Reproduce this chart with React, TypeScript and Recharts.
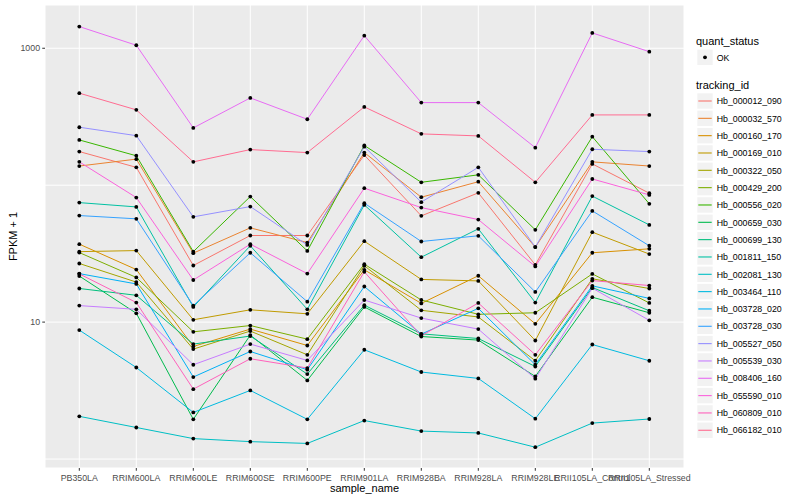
import React from 'react';
import { LineChart, Line, XAxis, YAxis, CartesianGrid, Legend } from 'recharts';

const FONT = '"Liberation Sans", Arial, Helvetica, sans-serif';

const categories = [
  'PB350LA', 'RRIM600LA', 'RRIM600LE', 'RRIM600SE', 'RRIM600PE', 'RRIM901LA',
  'RRIM928BA', 'RRIM928LA', 'RRIM928LE', 'RRII105LA_Control', 'RRII105LA_Stressed',
];

const yTicks = [1, 10, 100, 1000];
const yLabelTicks = [10, 1000];

const trackingIds = [
  'Hb_000012_090', 'Hb_000032_570', 'Hb_000160_170', 'Hb_000169_010', 'Hb_000322_050',
  'Hb_000429_200', 'Hb_000556_020', 'Hb_000659_030', 'Hb_000699_130', 'Hb_001811_150',
  'Hb_002081_130', 'Hb_003464_110', 'Hb_003728_020', 'Hb_003728_030', 'Hb_005527_050',
  'Hb_005539_030', 'Hb_008406_160', 'Hb_055590_010', 'Hb_060809_010', 'Hb_066182_010',
];

const colors = [
  '#F8766D', '#EA8331', '#D89000', '#C09B00', '#A3A500', '#7CAE00', '#39B600', '#00BB4E',
  '#00BF7D', '#00C1A3', '#00BFC4', '#00BAE0', '#00B0F6', '#35A2FF', '#9590FF', '#C77CFF',
  '#E76BF3', '#FA62DB', '#FF62BC', '#FF6C91',
];

const Hb_000012_090 = [176, 135, 25.9, 42.9, 42.9, 166, 59.7, 87.9, 26.2, 143, 87.4];
const Hb_000032_570 = [138, 155, 31.9, 48.8, 38.1, 173, 81.7, 106, 35.3, 148, 138];
const Hb_000160_170 = [37.1, 24.2, 6.64, 8.89, 6.75, 24.1, 13.7, 21.8, 9.71, 32.1, 34.3];
const Hb_000169_010 = [32.7, 33.3, 10.4, 12.3, 11.5, 39.0, 20.5, 20.0, 7.34, 45.4, 31.4];
const Hb_000322_050 = [26.8, 19.6, 6.35, 8.6, 5.77, 25.8, 12.2, 10.9, 5.22, 20.7, 17.6];
const Hb_000429_200 = [32.2, 21.2, 8.49, 9.44, 7.51, 26.5, 14.5, 11.4, 11.7, 22.5, 13.8];
const Hb_000556_020 = [214, 164, 32.7, 82.6, 33.1, 195, 105, 119, 47.2, 226, 73.1];
const Hb_000659_030 = [21.7, 11.6, 1.95, 8.04, 3.75, 12.9, 7.85, 7.39, 4.01, 15.2, 11.7];
const Hb_000699_130 = [17.6, 15.7, 6.91, 7.91, 4.17, 13.3, 8.21, 7.59, 4.74, 17.9, 12.1];
const Hb_001811_150 = [74.6, 69.4, 12.9, 36.1, 12.4, 71.8, 29.8, 48.0, 13.9, 83.2, 51.3];
const Hb_002081_130 = [2.05, 1.70, 1.41, 1.34, 1.30, 1.91, 1.60, 1.55, 1.22, 1.83, 1.96];
const Hb_003464_110 = [8.74, 4.66, 2.19, 3.17, 1.95, 6.28, 4.32, 3.88, 1.97, 6.86, 5.22];
const Hb_003728_020 = [22.6, 19.0, 3.97, 6.10, 4.49, 18.2, 8.17, 12.6, 4.88, 18.4, 14.9];
const Hb_003728_030 = [60.0, 56.8, 13.2, 32.1, 14.1, 73.9, 38.8, 42.7, 16.6, 64.9, 36.1];
const Hb_005527_050 = [265, 230, 58.7, 69.8, 36.6, 191, 75.2, 135, 35.3, 183, 176];
const Hb_005539_030 = [13.2, 12.4, 4.88, 6.91, 5.25, 14.5, 10.7, 8.89, 3.86, 17.7, 10.3];
const Hb_008406_160 = [1440, 1052, 262, 434, 303, 1236, 401, 401, 188, 1294, 944];
const Hb_055590_010 = [148, 81.2, 20.3, 37.1, 22.6, 95.1, 68.6, 56.1, 25.5, 111, 84.9];
const Hb_060809_010 = [22.5, 13.9, 3.24, 5.40, 4.62, 23.3, 7.94, 13.8, 5.77, 20.1, 18.5];
const Hb_066182_010 = [470, 355, 148, 182, 173, 373, 237, 229, 105, 326, 326];

const seriesValues = [
  Hb_000012_090, Hb_000032_570, Hb_000160_170, Hb_000169_010, Hb_000322_050,
  Hb_000429_200, Hb_000556_020, Hb_000659_030, Hb_000699_130, Hb_001811_150,
  Hb_002081_130, Hb_003464_110, Hb_003728_020, Hb_003728_030, Hb_005527_050,
  Hb_005539_030, Hb_008406_160, Hb_055590_010, Hb_060809_010, Hb_066182_010,
];

const data = categories.map((sample, i) => {
  const row: Record<string, any> = { sample };
  trackingIds.forEach((id, k) => {
    row[id] = seriesValues[k][i];
  });
  return row;
});

const YTick = (props: any) => {
  const { x, y, payload } = props;
  if (!yLabelTicks.includes(payload.value)) return null;
  return (
    <g>
      <line x1={x + 2.2} x2={x + 4.95} y1={y} y2={y} stroke="#333333" strokeWidth={1} />
      <text x={x} y={y} dy="0.34em" textAnchor="end" fill="#4D4D4D" fontSize={8.8} fontFamily={FONT}>
        {payload.value}
      </text>
    </g>
  );
};

const YTitle = (props: any) => {
  const vb = props.viewBox || { x: 0, y: 5, width: 45, height: 463 };
  const cx = vb.x + 13;
  const cy = vb.y + vb.height / 2;
  return (
    <text x={cx} y={cy} transform={`rotate(-90 ${cx} ${cy})`} textAnchor="middle" dominantBaseline="central"
      fontSize={11} fill="#000" fontFamily={FONT}>
      FPKM + 1
    </text>
  );
};

const XTitle = (props: any) => {
  const vb = props.viewBox || { x: 45, y: 468, width: 639, height: 32 };
  return (
    <text x={vb.x + vb.width / 2} y={vb.y + 24} textAnchor="middle" fontSize={11} fill="#000" fontFamily={FONT}>
      sample_name
    </text>
  );
};

const LegendBox = () => {
  const rowH = 17.33;
  const firstItem = 81;
  return (
    <svg width={110} height={430} style={{ display: 'block', overflow: 'visible' }}>
      <text x={6} y={24.5} fontSize={11} fill="#000" fontFamily={FONT}>quant_status</text>
      <rect x={7.3} y={29.6} width={15.4} height={15.4} fill="#F2F2F2" />
      <circle cx={15} cy={37.3} r={1.9} fill="#000" />
      <text x={26.7} y={40.5} fontSize={8.8} fill="#000" fontFamily={FONT}>OK</text>
      <text x={6} y={69} fontSize={11} fill="#000" fontFamily={FONT}>tracking_id</text>
      {trackingIds.map((id, i) => {
        const cy = firstItem + i * rowH;
        return (
          <g key={id}>
            <rect x={7.3} y={cy - 7.7} width={15.4} height={15.4} fill="#F2F2F2" />
            <line x1={8.3} x2={21.7} y1={cy} y2={cy} stroke={colors[i]} strokeWidth={1.1} />
            <text x={26.7} y={cy + 3.2} fontSize={8.8} fill="#000" fontFamily={FONT}>{id}</text>
          </g>
        );
      })}
    </svg>
  );
};

export default function App() {
  return (
    <div style={{ position: 'absolute', left: 0, top: 0, width: 800, height: 500, background: '#FFFFFF' }}>
      <LineChart width={800} height={500} data={data} margin={{ top: 5, right: 116, bottom: 0, left: 0 }}>
        <CartesianGrid fill="#EBEBEB" stroke="#FFFFFF" strokeWidth={1} />
        <XAxis
          dataKey="sample"
          scale="point"
          interval={0}
          padding={{ left: 34.3, right: 34.7 }}
          height={32}
          axisLine={false}
          tickLine={{ stroke: '#333333' }}
          tickSize={2.75}
          tickMargin={4}
          tick={{ fontSize: 8.8, fill: '#4D4D4D', fontFamily: FONT }}
          label={{ content: (p: any) => <XTitle {...p} /> }}
        />
        <YAxis
          scale="log"
          domain={[0.86, 2070]}
          allowDataOverflow
          ticks={yTicks}
          interval={0}
          width={45}
          axisLine={false}
          tickLine={false}
          tickSize={2.75}
          tickMargin={2.2}
          tick={<YTick />}
          label={{ content: (p: any) => <YTitle {...p} /> }}
        />
        <Legend
          layout="vertical"
          align="center"
          verticalAlign="middle"
          wrapperStyle={{ left: 690, top: 20, width: 110, height: 430 }}
          content={() => <LegendBox />}
        />
        {trackingIds.map((id, i) => (
          <Line
            key={id}
            type="linear"
            dataKey={id}
            stroke={colors[i]}
            strokeWidth={1}
            dot={{ r: 1.9, fill: '#000000', stroke: '#000000', strokeWidth: 0 }}
            activeDot={false}
            isAnimationActive={false}
            legendType="line"
          />
        ))}
      </LineChart>
    </div>
  );
}
